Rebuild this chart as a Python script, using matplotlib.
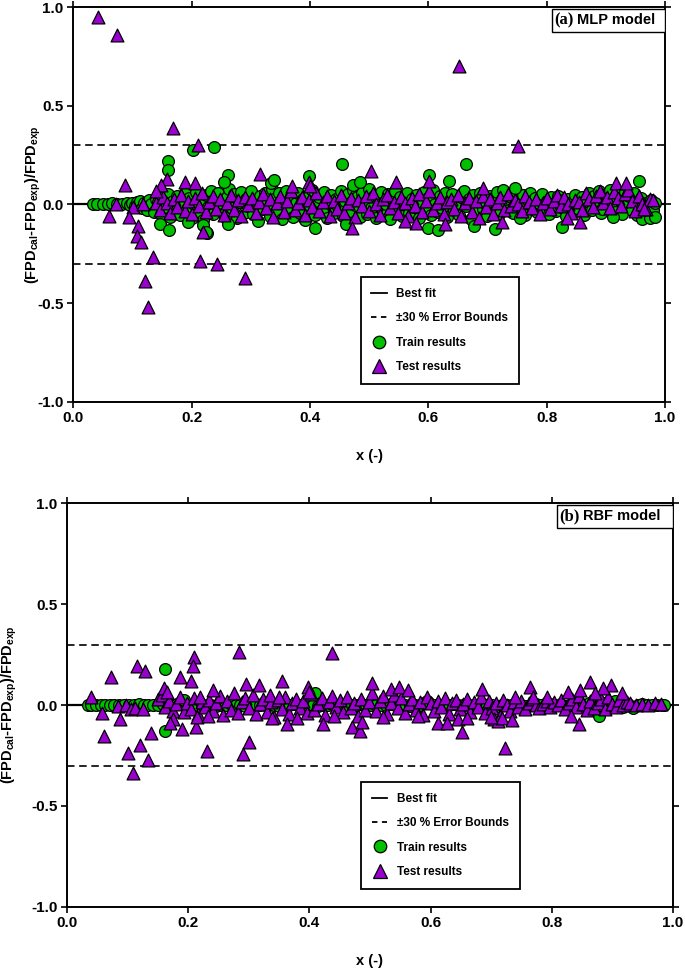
import numpy as np
import matplotlib
matplotlib.use('Agg')
import matplotlib.pyplot as plt
from matplotlib.lines import Line2D

plt.rcParams['font.family'] = ['Liberation Sans', 'DejaVu Sans']
plt.rcParams['font.weight'] = 'bold'
plt.rcParams['mathtext.fontset'] = 'custom'
plt.rcParams['mathtext.bf'] = 'Liberation Sans:bold'
plt.rcParams['mathtext.rm'] = 'Liberation Sans:bold'
plt.rcParams['mathtext.default'] = 'bf'

GREEN = '#00c000'
PURPLE = '#9a00d0'

# ---------------- (a) MLP model ----------------
train_a_x = [0.033, 0.040, 0.050, 0.058, 0.066, 0.074, 0.082, 0.090, 0.096,
             0.100, 0.104, 0.108, 0.112, 0.116, 0.120, 0.124, 0.128, 0.132, 0.136,
             0.140, 0.144, 0.148, 0.152, 0.156, 0.160, 0.164, 0.168, 0.172, 0.176,
             0.180, 0.184, 0.188, 0.192, 0.196, 0.200, 0.204, 0.208, 0.212, 0.216,
             0.220, 0.224, 0.228, 0.232, 0.236, 0.240, 0.244, 0.248, 0.252, 0.256,
             0.260, 0.264, 0.268, 0.272, 0.276, 0.280, 0.284, 0.288, 0.292, 0.296,
             0.300, 0.304, 0.308, 0.312, 0.316, 0.320, 0.324, 0.328, 0.332, 0.336,
             0.340, 0.344, 0.348, 0.352, 0.356, 0.360, 0.364, 0.368, 0.372, 0.376,
             0.380, 0.384, 0.388, 0.392, 0.396, 0.400, 0.404, 0.408, 0.412, 0.416,
             0.420, 0.424, 0.428, 0.432, 0.436, 0.440, 0.444, 0.448, 0.452, 0.456,
             0.460, 0.464, 0.468, 0.472, 0.476, 0.480, 0.484, 0.488, 0.492, 0.496,
             0.500, 0.504, 0.508, 0.512, 0.516, 0.520, 0.524, 0.528, 0.532, 0.536,
             0.540, 0.544, 0.548, 0.552, 0.556, 0.560, 0.564, 0.568, 0.572, 0.576,
             0.580, 0.584, 0.588, 0.592, 0.596, 0.600, 0.604, 0.608, 0.612, 0.616,
             0.620, 0.624, 0.628, 0.632, 0.636, 0.640, 0.644, 0.648, 0.652, 0.656,
             0.660, 0.664, 0.668, 0.672, 0.676, 0.680, 0.684, 0.688, 0.692, 0.696,
             0.700, 0.704, 0.708, 0.712, 0.716, 0.720, 0.724, 0.728, 0.732, 0.736,
             0.740, 0.744, 0.748, 0.752, 0.756, 0.760, 0.764, 0.768, 0.772, 0.776,
             0.780, 0.784, 0.788, 0.792, 0.796, 0.800, 0.804, 0.808, 0.812, 0.816,
             0.820, 0.824, 0.828, 0.832, 0.836, 0.840, 0.844, 0.848, 0.852, 0.856,
             0.860, 0.864, 0.868, 0.872, 0.876, 0.880, 0.884, 0.888, 0.892, 0.896,
             0.900, 0.904, 0.908, 0.912, 0.916, 0.920, 0.924, 0.928, 0.932, 0.936,
             0.940, 0.944, 0.948, 0.952, 0.956, 0.960, 0.964, 0.968, 0.972, 0.976,
             0.980, 0.984,
             0.160, 0.160, 0.203, 0.237, 0.262, 0.254, 0.147, 0.161, 0.226, 0.262,
             0.194, 0.220, 0.225, 0.454, 0.472, 0.484, 0.399, 0.409, 0.334, 0.340,
             0.461, 0.664, 0.635, 0.602, 0.600, 0.617, 0.713, 0.677, 0.826, 0.755,
             0.912, 0.957, 0.962, 0.975, 0.983, 0.893, 0.727, 0.747]
train_a_y = [0.000, 0.000, 0.000, 0.002, 0.005, 0.000, 0.003, 0.010, -0.004,
             0.005, -0.010, 0.012, 0.020, -0.018, 0.008, -0.030, 0.025, 0.000, -0.040,
             0.030, 0.012, -0.050, 0.040, -0.012, 0.055, -0.065, 0.018, -0.035, 0.045,
             -0.055, 0.010, 0.060, -0.025, 0.035, -0.070, 0.000, 0.065, -0.040, 0.025,
             -0.080, 0.050, -0.015, 0.070, -0.050, 0.030, 0.060, -0.030, 0.010, -0.065,
             0.040, 0.080, -0.020, 0.055, -0.070, 0.015, 0.065, -0.045, 0.030, -0.010,
             0.070, -0.050, 0.020, -0.085, 0.045, -0.025, 0.060, 0.000, -0.060, 0.080,
             0.030, -0.040, 0.060, -0.075, 0.015, 0.070, -0.030, 0.045, -0.065, 0.005,
             0.060, -0.045, 0.030, -0.080, 0.050, -0.010, 0.075, -0.055, 0.020, 0.040,
             -0.030, 0.065, -0.070, 0.010, 0.050, -0.045, 0.030, -0.015, 0.070, -0.060,
             0.020, 0.055, -0.035, 0.075, -0.005, 0.040, -0.065, 0.060, 0.010, -0.050,
             0.080, -0.020, 0.045, -0.070, 0.030, 0.065, -0.040, 0.000, 0.055, -0.075,
             0.020, 0.070, -0.030, 0.040, -0.060, 0.010, 0.060, -0.045, 0.030, -0.015,
             0.050, -0.070, 0.015, 0.065, -0.035, 0.035, -0.055, 0.075, 0.000, -0.040,
             0.045, -0.020, 0.060, -0.065, 0.025, 0.055, -0.030, 0.010, -0.055, 0.040,
             0.070, -0.010, 0.030, -0.075, 0.050, -0.040, 0.020, 0.060, -0.025, 0.005,
             -0.060, 0.045, 0.015, -0.035, 0.065, -0.050, 0.030, 0.000, 0.055, -0.030,
             0.040, -0.045, 0.070, 0.010, -0.020, 0.050, -0.055, 0.025, 0.060, -0.010,
             0.035, -0.040, 0.000, 0.055, -0.025, 0.020, -0.050, 0.040, 0.010, -0.035,
             0.045, -0.015, 0.025, -0.060, 0.030, 0.005, -0.040, 0.050, -0.020, 0.015,
             0.040, -0.055, 0.020, 0.060, -0.030, 0.045, -0.010, 0.070, -0.045, 0.030,
             0.055, -0.020, 0.075, 0.010, -0.040, 0.060, 0.025, -0.050, 0.065, 0.000,
             0.045, -0.030, 0.060, -0.055, 0.020, 0.035, -0.045, 0.010, -0.060, 0.025,
             -0.030, 0.005,
             0.218, 0.176, 0.278, 0.294, 0.151, 0.112, -0.098, -0.128, -0.145, -0.098,
             -0.091, -0.103, -0.142, 0.207, 0.098, 0.112, 0.146, -0.120, 0.110, 0.125,
             -0.098, 0.203, 0.120, 0.147, -0.117, -0.128, -0.122, -0.107, -0.112, -0.069,
             -0.061, 0.117, -0.075, -0.070, -0.065, -0.024, 0.075, 0.083]

test_a_x = [0.072, 0.101, 0.118,
            0.140, 0.146, 0.152, 0.158, 0.164, 0.170, 0.176, 0.182, 0.188, 0.194,
            0.200, 0.206, 0.212, 0.218, 0.224, 0.230, 0.236, 0.242, 0.248, 0.254,
            0.260, 0.266, 0.272, 0.278, 0.284, 0.290, 0.296, 0.302, 0.308, 0.314,
            0.320, 0.326, 0.332, 0.338, 0.344, 0.350, 0.356, 0.362, 0.368, 0.374,
            0.380, 0.386, 0.392, 0.398, 0.404, 0.410, 0.416, 0.422, 0.428, 0.434,
            0.440, 0.446, 0.452, 0.458, 0.464, 0.470, 0.476, 0.482, 0.488, 0.494,
            0.500, 0.506, 0.512, 0.518, 0.524, 0.530, 0.536, 0.542, 0.548, 0.554,
            0.560, 0.566, 0.572, 0.578, 0.584, 0.590, 0.596, 0.602, 0.608, 0.614,
            0.620, 0.626, 0.632, 0.638, 0.644, 0.650, 0.656, 0.662, 0.668, 0.674,
            0.680, 0.686, 0.692, 0.698, 0.704, 0.710, 0.716, 0.722, 0.728, 0.734,
            0.740, 0.746, 0.752, 0.758, 0.764, 0.770, 0.776, 0.782, 0.788, 0.794,
            0.800, 0.806, 0.812, 0.818, 0.824, 0.830, 0.836, 0.842, 0.848, 0.854,
            0.860, 0.866, 0.872, 0.878, 0.884, 0.890, 0.896, 0.902, 0.908, 0.914,
            0.920, 0.926, 0.932, 0.938, 0.944, 0.950, 0.956, 0.962, 0.968, 0.974,
            0.041, 0.074, 0.169, 0.210, 0.087, 0.060, 0.094, 0.109, 0.108, 0.115,
            0.134, 0.121, 0.127, 0.214, 0.243, 0.291, 0.219, 0.159, 0.149, 0.189,
            0.206, 0.316, 0.139, 0.369, 0.399, 0.400, 0.471, 0.504, 0.652, 0.751,
            0.602, 0.917, 0.934, 0.857, 0.834, 0.725, 0.628, 0.580, 0.560, 0.693,
            0.545, 0.980, 0.964]
test_a_y = [0.000, -0.013, 0.000,
            0.010, -0.030, 0.040, 0.005, -0.045, 0.030, -0.015, 0.050, -0.035, 0.020,
            -0.050, 0.035, -0.010, 0.060, -0.040, 0.015, 0.045, -0.025, 0.030, -0.055,
            0.010, 0.050, -0.030, 0.025, -0.060, 0.040, -0.005, 0.035, -0.045, 0.015,
            0.055, -0.020, 0.030, -0.065, 0.010, 0.045, -0.040, 0.020, 0.070, -0.030,
            0.005, 0.040, -0.055, 0.025, -0.015, 0.060, -0.035, 0.015, 0.045, -0.060,
            0.020, -0.025, 0.050, -0.045, 0.010, 0.035, -0.065, 0.025, -0.010, 0.045,
            -0.035, 0.060, 0.000, -0.055, 0.030, 0.050, -0.020, 0.015, -0.045, 0.040,
            0.010, -0.060, 0.035, -0.010, 0.055, -0.040, 0.020, 0.070, -0.030, 0.005,
            0.040, -0.050, 0.015, 0.030, -0.025, 0.050, -0.060, 0.010, 0.035, -0.040,
            0.020, -0.070, 0.045, -0.015, 0.030, -0.050, 0.010, 0.040, -0.030, 0.055,
            -0.010, 0.025, 0.000, -0.035, 0.045, 0.015, -0.020, 0.030, -0.050, 0.010,
            0.035, -0.025, 0.020, 0.050, -0.010, 0.040, 0.000, -0.045, 0.025, 0.015,
            -0.030, 0.060, 0.030, -0.015, 0.045, 0.070, 0.010, 0.040, -0.020, 0.065,
            0.035, -0.010, 0.055, 0.075, 0.020, -0.035, 0.045, 0.000, -0.025, 0.030,
            0.950, 0.860, 0.388, 0.300, 0.100, -0.060, -0.064, -0.107, -0.162, -0.190,
            -0.267, -0.387, -0.518, -0.289, -0.300, -0.374, -0.140, 0.129, 0.100, 0.114,
            0.108, 0.156, 0.066, 0.096, 0.112, 0.093, -0.120, 0.168, 0.704, 0.298,
            0.117, 0.108, 0.108, -0.091, -0.069, -0.091, -0.100, -0.095, -0.083, 0.086,
            0.112, 0.024, -0.024]

# ---------------- (b) RBF model ----------------
train_b_x = [0.035, 0.040, 0.048, 0.055, 0.062, 0.070, 0.078, 0.086, 0.094, 0.102,
             0.110, 0.118, 0.126, 0.134, 0.142, 0.150, 0.158, 0.166, 0.174, 0.182,
             0.190, 0.198, 0.206, 0.214, 0.222, 0.230, 0.238, 0.246, 0.254, 0.262,
             0.270, 0.278, 0.286, 0.294, 0.302, 0.310, 0.318, 0.326, 0.334, 0.342,
             0.350, 0.358, 0.366, 0.374, 0.382, 0.390, 0.398, 0.406, 0.414, 0.422,
             0.430, 0.438, 0.446, 0.454, 0.462, 0.470, 0.478, 0.486, 0.494, 0.502,
             0.510, 0.518, 0.526, 0.534, 0.542, 0.550, 0.558, 0.566, 0.574, 0.582,
             0.590, 0.598, 0.606, 0.614, 0.622, 0.630, 0.638, 0.646, 0.654, 0.662,
             0.670, 0.678, 0.686, 0.694, 0.702, 0.710, 0.718, 0.726, 0.734, 0.742,
             0.750, 0.758, 0.766, 0.774, 0.782, 0.790, 0.798, 0.806, 0.814, 0.822,
             0.830, 0.838, 0.846, 0.854, 0.862, 0.870, 0.878, 0.886, 0.894, 0.902,
             0.910, 0.918, 0.926, 0.934, 0.942, 0.950, 0.958, 0.966, 0.974, 0.982,
             0.986, 0.161, 0.161, 0.193, 0.409, 0.878, 0.878, 0.595, 0.905]
train_b_y = [0.000, 0.000, 0.000, 0.000, 0.000, 0.000, 0.002, 0.000, 0.000, 0.000,
             0.000, 0.003, 0.000, 0.000, -0.002, 0.000, 0.005, 0.000, 0.000, 0.004,
             0.010, 0.000, -0.005, 0.000, 0.002, 0.000, 0.000, -0.004, 0.000, 0.000,
             0.003, 0.000, 0.000, -0.003, 0.000, 0.005, 0.000, 0.000, 0.002, 0.000,
             -0.004, 0.000, 0.000, 0.003, 0.000, 0.000, 0.010, 0.000, -0.005, 0.000,
             0.000, 0.004, 0.000, 0.000, -0.003, 0.000, 0.000, 0.005, 0.000, 0.000,
             0.000, -0.002, 0.000, 0.004, 0.000, 0.000, 0.000, -0.004, 0.000, 0.002,
             0.012, 0.008, 0.000, 0.000, -0.004, 0.000, 0.003, 0.000, 0.000, -0.002,
             0.000, 0.000, 0.004, 0.000, 0.000, -0.003, 0.000, 0.002, 0.000, 0.000,
             0.000, -0.004, 0.000, 0.003, 0.000, 0.000, 0.005, 0.000, 0.000, -0.003,
             0.000, 0.000, 0.004, 0.000, 0.010, 0.000, 0.000, 0.012, -0.006, 0.000,
             0.015, -0.010, 0.005, -0.015, 0.000, 0.003, 0.000, 0.000, 0.002, 0.000,
             0.000, 0.177, -0.129, 0.025, 0.058, -0.055, 0.000, 0.020, 0.020]

test_b_x = [0.083, 0.097, 0.105, 0.112, 0.125,
            0.150, 0.156, 0.162, 0.168, 0.174, 0.180, 0.186, 0.192, 0.198, 0.204,
            0.210, 0.216, 0.222, 0.228, 0.234, 0.240, 0.246, 0.252, 0.258, 0.264,
            0.270, 0.276, 0.282, 0.288, 0.294, 0.300, 0.306, 0.312, 0.318, 0.324,
            0.330, 0.336, 0.342, 0.348, 0.354, 0.360, 0.366, 0.372, 0.378, 0.384,
            0.390, 0.396, 0.402, 0.408, 0.414, 0.420, 0.426, 0.432, 0.438, 0.444,
            0.450, 0.456, 0.462, 0.468, 0.474, 0.480, 0.486, 0.492, 0.498, 0.504,
            0.510, 0.516, 0.522, 0.528, 0.534, 0.540, 0.546, 0.552, 0.558, 0.564,
            0.570, 0.576, 0.582, 0.588, 0.594, 0.600, 0.606, 0.612, 0.618, 0.624,
            0.630, 0.636, 0.642, 0.648, 0.654, 0.660, 0.666, 0.672, 0.678, 0.684,
            0.690, 0.696, 0.702, 0.708, 0.714, 0.720, 0.726, 0.732, 0.738, 0.744,
            0.750, 0.756, 0.762, 0.768, 0.774, 0.780, 0.786, 0.792, 0.798, 0.804,
            0.810, 0.816, 0.822, 0.828, 0.834, 0.840, 0.846, 0.852, 0.858, 0.864,
            0.870, 0.876, 0.882, 0.888, 0.894, 0.900, 0.906, 0.912, 0.918, 0.924,
            0.930, 0.940, 0.950, 0.960, 0.970, 0.980,
            0.040, 0.073, 0.115, 0.128, 0.058, 0.087, 0.061, 0.101, 0.108, 0.120,
            0.134, 0.138, 0.210, 0.207, 0.186, 0.204, 0.240, 0.283, 0.295, 0.317,
            0.230, 0.300, 0.291, 0.189, 0.175, 0.170, 0.213, 0.214, 0.233, 0.159,
            0.165, 0.219, 0.437, 0.354, 0.398, 0.400, 0.503, 0.534, 0.548, 0.562,
            0.335, 0.349, 0.363, 0.422, 0.441, 0.470, 0.483, 0.487, 0.613, 0.627,
            0.645, 0.660, 0.652, 0.522, 0.379, 0.338, 0.580, 0.685, 0.764, 0.723,
            0.864, 0.898, 0.885, 0.847, 0.827, 0.916, 0.871, 0.846, 0.832, 0.793,
            0.770, 0.740, 0.705, 0.712, 0.718, 0.735, 0.700]
test_b_y = [-0.005, 0.000, -0.020, -0.015, -0.020,
            0.030, 0.050, -0.010, 0.020, -0.030, 0.005, 0.040, -0.035, 0.010, -0.020,
            0.035, -0.045, 0.015, -0.010, 0.025, -0.030, 0.010, 0.045, -0.050, 0.020,
            -0.025, 0.060, -0.040, 0.015, 0.035, -0.015, 0.050, -0.045, 0.005, 0.030,
            -0.035, 0.015, -0.060, 0.025, -0.020, 0.040, -0.045, 0.010, 0.030, -0.015,
            0.020, -0.040, 0.055, -0.025, 0.005, 0.035, -0.050, 0.015, 0.045, -0.010,
            0.025, -0.035, 0.040, -0.015, 0.010, -0.055, 0.030, -0.025, 0.015, 0.060,
            -0.030, 0.020, 0.045, -0.045, 0.010, 0.050, -0.015, 0.035, -0.040, 0.005,
            0.030, -0.025, 0.015, -0.050, 0.040, 0.010, -0.030, 0.020, -0.010, 0.035,
            -0.045, 0.010, 0.025, -0.020, 0.005, 0.030, -0.035, 0.015, -0.010, 0.040,
            -0.040, 0.020, -0.015, 0.010, -0.055, 0.025, 0.000, -0.030, 0.015, -0.010,
            0.020, -0.020, 0.010, 0.030, 0.000, -0.015, 0.005, 0.020, -0.010, 0.015,
            0.000, 0.025, -0.020, 0.010, 0.030, -0.010, 0.045, 0.005, -0.025, 0.020,
            -0.015, 0.010, 0.030, -0.020, 0.040, 0.005, -0.010, 0.025, 0.000, 0.015,
            0.010, 0.000, 0.005, 0.000, 0.010, 0.005,
            0.041, 0.137, 0.193, 0.170, -0.038, -0.071, -0.152, -0.240, -0.335, -0.198,
            -0.273, -0.137, 0.240, 0.193, 0.137, 0.120, 0.074, 0.265, 0.104, 0.099,
            -0.227, -0.182, -0.243, -0.121, -0.071, -0.091, -0.107, -0.060, -0.055, 0.083,
            0.066, 0.038, 0.256, 0.120, 0.091, 0.066, 0.110, 0.080, 0.087, 0.076,
            0.050, 0.038, -0.094, -0.094, -0.055, -0.107, -0.127, -0.083, -0.088, -0.091,
            -0.071, -0.066, -0.132, -0.058, -0.066, -0.066, -0.055, 0.079, 0.091, -0.212,
            0.113, 0.099, 0.083, 0.074, 0.066, 0.058, 0.058, -0.096, -0.053, 0.040,
            0.040, 0.040, -0.070, -0.080, -0.065, -0.075, -0.060]

ylabel_text = r'(FPD$_{cal}$-FPD$_{exp}$)/FPD$_{exp}$'


def draw_panel(ax, tx, ty, sx, sy, letter, model):
    "Draw one residual panel"
    ax.axhline(0.0, color='black', lw=1.6, zorder=1)
    ax.axhline(0.3, color='black', lw=1.2, dashes=(4.5, 2.8), zorder=1)
    ax.axhline(-0.3, color='black', lw=1.2, dashes=(4.5, 2.8), zorder=1)
    ax.scatter(tx, ty, s=72, marker='o', facecolor=GREEN, edgecolor='black',
               linewidth=0.9, zorder=2)
    ax.scatter(sx, sy, s=85, marker='^', facecolor=PURPLE, edgecolor='black',
               linewidth=0.9, zorder=3)
    ax.set_xlim(0, 1.0)
    ax.set_ylim(-1.0, 1.0)
    ax.set_xticks([0.0, 0.2, 0.4, 0.6, 0.8, 1.0])
    ax.set_yticks([-1.0, -0.5, 0.0, 0.5, 1.0])
    ax.xaxis.set_major_formatter(plt.FormatStrFormatter('%.1f'))
    ax.yaxis.set_major_formatter(plt.FormatStrFormatter('%.1f'))
    ax.tick_params(direction='out', length=4, width=1.2, labelsize=11,
                   top=True, right=True, pad=3)
    for sp in ax.spines.values():
        sp.set_linewidth(1.4)
    ax.set_xlabel('x (-)', fontsize=10.5, fontweight='bold', labelpad=17)
    handles = [Line2D([], [], color='black', lw=1.3),
               Line2D([], [], color='black', lw=1.3, dashes=(3, 2.5)),
               Line2D([], [], ls='none', marker='o', ms=9, mfc=GREEN, mec='black', mew=0.9),
               Line2D([], [], ls='none', marker='^', ms=10, mfc=PURPLE, mec='black', mew=0.9)]
    labels = ['Best fit', '\u00b130 % Error Bounds', 'Train results', 'Test results']
    leg = ax.legend(handles, labels, loc='lower left', bbox_to_anchor=(0.486, 0.045),
                    borderaxespad=0, fancybox=False, framealpha=1, edgecolor='black',
                    prop={'weight': 'bold', 'size': 8.5}, handlelength=1.3,
                    labelspacing=1.05, borderpad=0.9, handletextpad=0.8)
    leg.get_frame().set_linewidth(1.3)
    ax.add_patch(plt.Rectangle((0.809, 0.938), 0.191, 0.0585, transform=ax.transAxes,
                               facecolor='white', edgecolor='black', lw=1.0, zorder=5))
    ax.text(0.813, 0.968, '(' + letter + ')', transform=ax.transAxes, ha='left', va='center',
            family='Liberation Serif', fontweight='bold', fontsize=12, zorder=6)
    ax.text(0.852, 0.968, model, transform=ax.transAxes, ha='left', va='center',
            fontweight='bold', fontsize=10.5, zorder=6)


fig = plt.figure(figsize=(6.85, 9.73), dpi=100)
ax1 = fig.add_axes([0.1070, 0.5872, 0.8637, 0.4053])
ax2 = fig.add_axes([0.0982, 0.0681, 0.8838, 0.4146])

draw_panel(ax1, train_a_x, train_a_y, test_a_x, test_a_y, 'a', 'MLP model')
draw_panel(ax2, train_b_x, train_b_y, test_b_x, test_b_y, 'b', 'RBF model')

ax1.set_ylabel(ylabel_text, fontsize=10.5, fontweight='bold')
ax2.set_ylabel(ylabel_text, fontsize=10.5, fontweight='bold')
ax1.yaxis.set_label_coords(-0.052, 0.5)
ax2.yaxis.set_label_coords(-0.079, 0.5)

fig.savefig('out.png', dpi=100)
